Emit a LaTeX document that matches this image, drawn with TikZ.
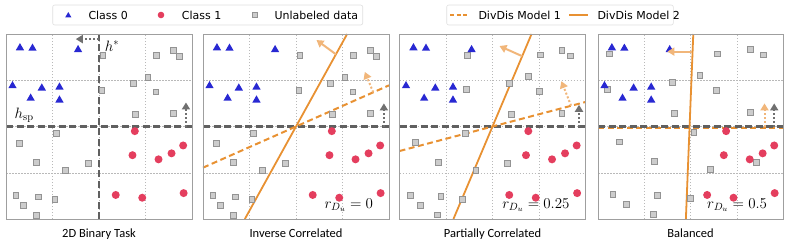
\RequirePackage{fix-cm}
\documentclass[tikz,border=0pt]{standalone}
\usepackage[no-math]{fontspec}
\setmainfont{Carlito}
\newfontfamily\legfont{DejaVu Sans}
\usetikzlibrary{arrows.meta}

\definecolor{clsblue}{RGB}{40,40,210}
\definecolor{clsred}{RGB}{228,62,94}
\definecolor{divorange}{RGB}{232,145,50}
\definecolor{normorange}{RGB}{241,182,122}
\definecolor{spgray}{RGB}{96,96,96}

% data points (panel units, grid from -2 to 2)
\newcommand{\classzero}{-1.70/1.70, -1.43/1.69, -0.45/1.66, -1.86/0.88, -1.23/0.83, -0.85/0.85, -1.47/0.61, -0.85/0.57}
\newcommand{\classone}{0.77/-0.10, 0.72/-0.62, 1.28/-0.71, 1.56/-0.58, 1.81/-0.41, 0.36/-1.48, 0.93/-1.54, 1.82/-1.44}
\newcommand{\unlabA}{0.08/1.54, 1.23/1.54, 1.59/1.65, 1.73/1.52, 1.05/1.06, 0.74/0.93, 0.06/0.79, 1.22/0.75, 0.78/0.26, 1.59/0.28, -0.92/-0.15, -1.71/-0.36, -1.34/-0.78, -0.73/-0.95, -0.23/-0.80, -1.79/-1.49, -1.30/-1.52, -0.95/-1.58, -1.63/-1.70, -1.35/-1.92}
\newcommand{\unlabB}{-0.54/1.54, 1.02/1.55, 1.49/1.65, 1.67/1.53, 0.77/1.08, 0.36/0.94, -0.57/0.80, 1.00/0.76, 0.41/0.26, 1.49/0.29, -0.58/-0.14, -1.66/-0.35, -1.16/-0.77, -0.36/-0.95, 0.32/-0.79, -1.76/-1.48, -1.11/-1.51, -0.65/-1.57, -1.56/-1.70, -1.18/-1.91}
\newcommand{\unlabC}{-1.75/1.57, 0.58/1.57, 1.29/1.67, 1.57/1.55, 0.20/1.10, -0.40/0.96, -1.80/0.81, 0.56/0.78, -0.35/0.29, 1.29/0.31, 0.07/-0.13, -1.54/-0.33, -0.79/-0.76, 0.42/-0.93, 1.43/-0.77, -1.68/-1.47, -0.72/-1.49, 0.00/-1.55, -1.38/-1.68, -0.81/-1.89}

\newcommand{\panelgrid}{%
  \foreach \g in {-1,0,1} {
    \draw[gridline] (\g,-2) -- (\g,2);
    \draw[gridline] (-2,\g) -- (2,\g);
  }
}
\newcommand{\panelpoints}[1]{%
  \foreach \x/\y in #1 {\filldraw[unlab] (\x,\y) +(-2.9pt,-2.9pt) rectangle +(2.9pt,2.9pt);}
  \foreach \x/\y in \classzero {\fill[clsblue] (\x,\y) +(90:4.8pt) -- +(210:4.8pt) -- +(330:4.8pt) -- cycle;}
  \foreach \x/\y in \classone {\fill[clsred] (\x,\y) circle (4pt);}
}

\begin{document}
\begin{tikzpicture}[x=1pt, y=-1pt,
    gridline/.style={gray!55, line width=0.5pt, dash pattern=on 1.5pt off 1.5pt},
    unlab/.style={fill=gray!40, draw=gray!85, line width=0.6pt},
    frame/.style={draw=gray!75, line width=0.9pt},
    spline/.style={spgray, line width=2.4pt, dash pattern=on 7pt off 3.5pt},
    modelone/.style={divorange, line width=2pt, dash pattern=on 6pt off 3.5pt},
    modeltwo/.style={divorange, line width=1.8pt},
    normsolid/.style={normorange, line width=2pt, -{Triangle[width=8pt,length=7pt]}},
    normdot/.style={normorange, line width=2pt, dash pattern=on 2pt off 2pt, -{Triangle[width=8pt,length=7pt]}},
    graydot/.style={spgray!90, line width=2.2pt, dash pattern=on 2pt off 2pt, -{Triangle[width=8pt,length=7pt]}},
    mathlabel/.style={inner sep=0pt, font=\fontsize{15}{17}\selectfont},
    title/.style={inner sep=0pt, anchor=base, font=\fontsize{12.5}{14}\selectfont},
    legtext/.style={inner sep=0pt, anchor=west, font=\legfont\fontsize{11}{13}\selectfont},
    legbox/.style={draw=gray!25, fill=white, line width=0.6pt, rounded corners=2pt}]
  \useasboundingbox (0,0) rectangle (789,250);

  % legends
  \draw[legbox] (52.7,5) rectangle (362.7,25);
  \fill[clsblue] (68.3,15.6) +(90:3.6pt) -- +(210:3.6pt) -- +(330:3.6pt) -- cycle;
  \node[legtext] (legc0) at (88.3,15) {Class 0};
  \fill[clsred] (161,15) circle (3.3pt);
  \node[legtext] (legc1) at (181.7,15) {Class 1};
  \filldraw[unlab] (254.3,15) +(-2.5pt,-2.5pt) rectangle +(2.5pt,2.5pt);
  \node[legtext] (legun) at (274.3,15) {Unlabeled data};

  \draw[legbox] (446.7,5) rectangle (673.3,25);
  \coordinate (lm1a) at (450,15);
  \coordinate (lm1b) at (469,15);
  \draw[modelone, line width=1.6pt, dash pattern=on 4pt off 2.5pt] (lm1a) -- (lm1b);
  \node[legtext] (legm1) at (478.3,15) {DivDis Model 1};
  \coordinate (lm2a) at (569.3,15);
  \coordinate (lm2b) at (588.3,15);
  \draw[modeltwo, line width=1.6pt] (lm2a) -- (lm2b);
  \node[legtext] (legm2) at (597.3,15) {DivDis Model 2};

  % panel 1: 2D binary task
  \begin{scope}[shift={(99pt,-126.5pt)}, x=46.5pt, y=46.25pt]
    \panelgrid
    \draw[spline] (0,-2) -- (0,2);
    \draw[spline] (-2,0) -- (2,0);
    \panelpoints{\unlabA}
    \coordinate (a1s) at (0,1.89);
    \coordinate (a1e) at (-0.5,1.89);
    \draw[graydot] (a1s) -- (a1e);
    \coordinate (b1s) at (1.87,0);
    \coordinate (b1e) at (1.87,0.52);
    \draw[graydot] (b1s) -- (b1e);
    \node[mathlabel] (hstar) at (0.28,1.74) {$h^*$};
    \node[mathlabel] (hsp) at (-1.61,0.25) {$h_{\mathrm{sp}}$};
    \draw[frame] (-2,-2) rectangle (2,2);
  \end{scope}
  \node[title] (title1) at (99,237.5) {2D Binary Task};

  % panel 2: inverse correlated
  \begin{scope}[shift={(296pt,-126.5pt)}, x=46.5pt, y=46.25pt]
    \panelgrid
    \draw[spline] (-2,0) -- (2,0);
    \draw[modelone] (-2,-0.89) -- (2,0.89);
    \draw[modeltwo] (-1.10,-2) -- (1.10,2);
    \panelpoints{\unlabA}
    \coordinate (n2s) at (0.86,1.56);
    \coordinate (n2e) at (0.44,1.87);
    \draw[normsolid] (n2s) -- (n2e);
    \coordinate (m2s) at (1.66,0.74);
    \coordinate (m2e) at (1.48,1.18);
    \draw[normdot] (m2s) -- (m2e);
    \coordinate (b2s) at (1.89,0);
    \coordinate (b2e) at (1.89,0.5);
    \draw[graydot] (b2s) -- (b2e);
    \node[mathlabel, anchor=east] (ratio2) at (1.66,-1.70) {$r_{D_u} = 0$};
    \draw[frame] (-2,-2) rectangle (2,2);
  \end{scope}
  \node[title] (title2) at (296,237.5) {Inverse Correlated};

  % panel 3: partially correlated
  \begin{scope}[shift={(492.5pt,-126.5pt)}, x=46.5pt, y=46.25pt]
    \panelgrid
    \draw[spline] (-2,0) -- (2,0);
    \draw[modelone] (-2,-0.53) -- (2,0.53);
    \draw[modeltwo] (-0.84,-2) -- (0.84,2);
    \panelpoints{\unlabB}
    \coordinate (n3s) at (0.64,1.52);
    \coordinate (n3e) at (0.15,1.74);
    \draw[normsolid] (n3s) -- (n3e);
    \coordinate (m3s) at (1.69,0.45);
    \coordinate (m3e) at (1.48,0.98);
    \draw[normdot] (m3s) -- (m3e);
    \coordinate (b3s) at (1.86,0);
    \coordinate (b3e) at (1.86,0.47);
    \draw[graydot] (b3s) -- (b3e);
    \node[mathlabel, anchor=east] (ratio3) at (1.66,-1.70) {$r_{D_u} = 0.25$};
    \draw[frame] (-2,-2) rectangle (2,2);
  \end{scope}
  \node[title] (title3) at (492.5,237.5) {Partially Correlated};

  % panel 4: balanced
  \begin{scope}[shift={(690.5pt,-126.5pt)}, x=46.25pt, y=46.25pt]
    \panelgrid
    \draw[modelone] (-2,-0.04) -- (2,-0.04);
    \draw[spline] (-2,0) -- (2,0);
    \draw[modeltwo] (-0.10,-2) -- (0.06,2);
    \panelpoints{\unlabC}
    \coordinate (n4s) at (0.04,1.62);
    \coordinate (n4e) at (-0.5,1.62);
    \draw[normsolid] (n4s) -- (n4e);
    \coordinate (m4s) at (1.60,0);
    \coordinate (m4e) at (1.60,0.5);
    \draw[normdot] (m4s) -- (m4e);
    \coordinate (b4s) at (1.81,0);
    \coordinate (b4e) at (1.81,0.5);
    \draw[graydot] (b4s) -- (b4e);
    \node[mathlabel, anchor=east] (ratio4) at (1.66,-1.70) {$r_{D_u} = 0.5$};
    \draw[frame] (-2,-2) rectangle (2,2);
  \end{scope}
  \node[title] (title4) at (690.5,237.5) {Balanced};
\end{tikzpicture}
\end{document}
